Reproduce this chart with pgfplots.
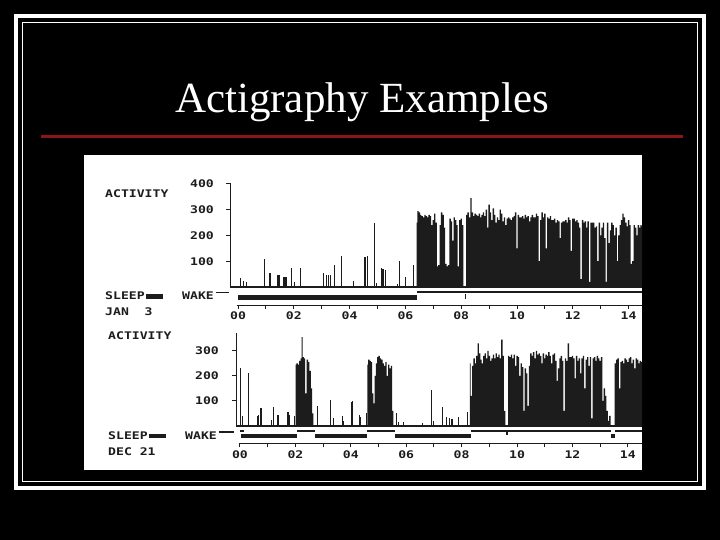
\documentclass[border=0pt]{standalone}
\usepackage{pgfplots}
\pgfplotsset{compat=1.18}
\usepackage{fontspec}
\setmainfont{Liberation Serif}
\newfontfamily\dotfont{DejaVu Sans Mono}[FakeStretch=1.25]
\newcommand\lbl{\dotfont\bfseries\fontsize{10.5bp}{12bp}\selectfont}
\definecolor{ink}{RGB}{28,28,28}
\definecolor{redline}{RGB}{140,22,22}
\pgfplotsset{act/.style={scale only axis, anchor=south west, clip=false,
  axis line style={draw=none}, tick align=outside, xtick pos=bottom, ytick pos=left,
  major tick length=4bp, every tick/.style={ink, line width=1bp},
  ticklabel style={font=\lbl, text=ink},
  xticklabel style={anchor=center, yshift=-7bp},
  xtick={0,...,14}, xticklabels={00,,02,,04,,06,,08,,10,,12,,14}},
  dense/.style={fill=ink, draw=none, const plot mark mid}}
\begin{document}
\begin{tikzpicture}[x=1bp,y=1bp]
\fill[black] (0,0) rectangle (720,540);
\useasboundingbox (0,0) rectangle (720,540);
\draw[white, line width=3.5bp] (16,52) rectangle (704,524);
\draw[white, line width=1.5bp] (22.5,58.5) rectangle (697.5,517.5);
\node[anchor=base, white, font=\fontsize{43bp}{50bp}\selectfont, inner sep=0] at (362,427) {Actigraphy Examples};
\draw[redline, line width=3bp] (41,403.3) -- (683,403.3);
\fill[white] (84,70) rectangle (642,385);
% left labels, top panel
\node[anchor=base west, inner sep=0, text=ink] at (105,342) {\lbl ACTIVITY};
\node[anchor=base west, inner sep=0, text=ink] at (105,240) {\lbl SLEEP\,\rule[1.3bp]{17bp}{4.5bp}};
\node[anchor=base west, inner sep=0, text=ink] at (182,240) {\lbl WAKE\,\rule[7bp]{13bp}{1.3bp}};
\node[anchor=base west, inner sep=0, text=ink] at (105,224) {\lbl JAN\ \ 3};
% left labels, bottom panel
\node[anchor=base west, inner sep=0, text=ink] at (108,200.4) {\lbl ACTIVITY};
\node[anchor=base west, inner sep=0, text=ink] at (108,100.4) {\lbl SLEEP\,\rule[1.3bp]{17bp}{4.5bp}};
\node[anchor=base west, inner sep=0, text=ink] at (185,100.4) {\lbl WAKE\,\rule[7bp]{15bp}{1.3bp}};
\node[anchor=base west, inner sep=0, text=ink] at (108,84) {\lbl DEC 21};

% ---------------- top panel (JAN 3) ----------------
\begin{axis}[act, at={(230bp,235bp)}, width=412bp, height=123.6bp,
  xmin=-0.287, xmax=14.48, ymin=-70, ymax=410,
  ytick={100,200,300,400}, yticklabels={100,200,300,400},
  yticklabel style={anchor=center, xshift=-24bp}]
\draw[ink, line width=1bp] (axis cs:-0.287,0) -- (axis cs:-0.287,405);
\addplot[ink, line width=1.2bp] coordinates {(-0.287,0) (14.48,0)};
\addplot[ink, line width=0.8bp] coordinates {(-0.05,-70) (14.48,-70)};
\addplot[ink, line width=5bp] coordinates {(0,-41) (6.42,-41)};
\addplot[ink, line width=1.8bp] coordinates {(6.42,-21) (14.48,-21)};
\addplot[ink, line width=1.5bp] coordinates {(8.15,-28) (8.15,-45)};
\addplot[ycomb, ink, line width=1.2bp] coordinates {
(0.08,35) (0.20,25) (0.30,20) (0.95,110) (1.15,55) (1.43,45) (1.50,45) (1.65,40)
(1.72,40) (1.92,75) (2.03,20) (2.25,72) (3.05,55) (3.17,45) (3.25,45) (3.32,45)
(3.45,85) (3.70,120) (4.15,25) (4.55,115) (4.65,120) (4.88,250) (4.95,15) (5.13,75)
(5.20,70) (5.30,65) (5.72,12) (5.80,100) (6.00,40) (6.28,85)};
\addplot[dense] coordinates {
(6.40,250) (6.45,295) (6.50,290) (6.55,280) (6.60,275) (6.65,270) (6.70,280) (6.75,275)
(6.80,270) (6.85,280) (6.90,275) (6.95,240) (7.00,260) (7.05,285) (7.10,250) (7.15,80)
(7.20,85) (7.25,240) (7.30,290) (7.35,280) (7.40,230) (7.45,90) (7.50,80) (7.55,85)
(7.60,265) (7.65,255) (7.70,180) (7.75,270) (7.80,260) (7.85,240) (7.90,80) (7.95,260)
(8.00,265) (8.05,240) (8.10,0) (8.15,0) (8.20,280) (8.25,290) (8.30,270) (8.35,345)
(8.40,290) (8.45,275) (8.50,285) (8.55,280) (8.60,275) (8.65,285) (8.70,270) (8.75,280)
(8.80,290) (8.85,275) (8.90,300) (8.95,230) (9.00,320) (9.05,290) (9.10,260) (9.15,305)
(9.20,280) (9.25,250) (9.30,270) (9.35,260) (9.40,300) (9.45,285) (9.50,255) (9.55,270)
(9.60,240) (9.65,265) (9.70,270) (9.75,265) (9.80,260) (9.85,270) (9.90,275) (9.95,290)
(10.00,150) (10.05,280) (10.10,270) (10.15,270) (10.20,275) (10.25,265) (10.30,280) (10.35,270)
(10.40,275) (10.45,255) (10.50,270) (10.55,280) (10.60,270) (10.65,270) (10.70,285) (10.75,275)
(10.80,100) (10.85,260) (10.90,290) (10.95,270) (11.00,285) (11.05,150) (11.10,270) (11.15,265)
(11.20,275) (11.25,260) (11.30,260) (11.35,265) (11.40,250) (11.45,260) (11.50,255) (11.55,190)
(11.60,250) (11.65,255) (11.70,255) (11.75,260) (11.80,250) (11.85,270) (11.90,260) (11.95,140)
(12.00,265) (12.05,265) (12.10,255) (12.15,260) (12.20,250) (12.25,230) (12.30,30) (12.35,260)
(12.40,250) (12.45,255) (12.50,230) (12.55,255) (12.60,20) (12.65,250) (12.70,250) (12.75,250)
(12.80,230) (12.85,235) (12.90,100) (12.95,250) (13.00,200) (13.05,230) (13.10,250) (13.15,190)
(13.20,20) (13.25,250) (13.30,170) (13.35,220) (13.40,250) (13.45,240) (13.50,200) (13.55,230)
(13.60,100) (13.65,200) (13.70,240) (13.75,260) (13.80,285) (13.85,270) (13.90,250) (13.95,235)
(14.00,260) (14.05,240) (14.10,90) (14.15,100) (14.20,240) (14.25,230) (14.30,200) (14.35,240)
(14.40,230) (14.45,240) (14.48,235)} \closedcycle;
\end{axis}

% ---------------- bottom panel (DEC 21) ----------------
\begin{axis}[act, at={(236bp,96.5bp)}, width=406bp, height=111.25bp,
  xmin=-0.144, xmax=14.51, ymin=-70, ymax=375,
  ytick={100,200,300}, yticklabels={100,200,300},
  yticklabel style={anchor=center, xshift=-25bp}]
\draw[ink, line width=1bp] (axis cs:-0.144,0) -- (axis cs:-0.144,372);
\addplot[ink, line width=1.2bp] coordinates {(-0.144,0) (14.51,0)};
\addplot[ink, line width=0.8bp] coordinates {(-0.05,-70) (14.51,-70)};
\addplot[ink, line width=4.5bp] coordinates {(0.05,-40) (2.05,-40)};
\addplot[ink, line width=4.5bp] coordinates {(2.70,-40) (4.60,-40)};
\addplot[ink, line width=4.5bp] coordinates {(5.60,-40) (8.35,-40)};
\addplot[ink, line width=4.5bp] coordinates {(13.40,-40) (13.55,-40)};
\addplot[ink, line width=1.8bp] coordinates {(0,-20) (0.15,-20)};
\addplot[ink, line width=1.8bp] coordinates {(2.05,-20) (2.70,-20)};
\addplot[ink, line width=1.8bp] coordinates {(4.60,-20) (5.60,-20)};
\addplot[ink, line width=1.8bp] coordinates {(8.35,-20) (13.40,-20)};
\addplot[ink, line width=1.8bp] coordinates {(13.55,-20) (14.51,-20)};
\addplot[ink, line width=1.5bp] coordinates {(9.63,-24) (9.63,-36)};
\addplot[ycomb, ink, line width=1.2bp] coordinates {
(0.03,230) (0.08,40) (0.32,210) (0.63,40) (0.68,45) (0.76,70) (1.15,25) (1.22,75)
(1.37,45) (1.73,55) (1.79,45) (1.96,40) (2.80,80) (3.26,105) (3.38,30) (3.70,40)
(3.74,20) (4.03,95) (4.07,100) (4.30,45) (4.35,35) (4.57,50) (5.64,50) (5.72,15)
(5.90,15) (6.60,10) (6.92,145) (6.98,20) (7.30,75) (7.45,35) (7.55,30) (7.65,28)
(7.90,35) (8.22,55)};
\addplot[dense] coordinates {
(2.01,245) (2.06,250) (2.11,245) (2.16,260) (2.21,270) (2.24,355) (2.28,275) (2.33,270) (2.38,130)
(2.43,265) (2.48,255) (2.53,220) (2.58,150) (2.63,50) (2.65,50)} \closedcycle;
\addplot[dense] coordinates {
(4.60,245) (4.65,265) (4.70,260) (4.75,255) (4.79,130) (4.84,90) (4.88,200) (4.92,250) (4.97,275)
(5.02,280) (5.07,270) (5.12,265) (5.17,250) (5.22,240) (5.27,255) (5.32,200) (5.37,245)
(5.42,230) (5.47,240) (5.52,60) (5.54,60)} \closedcycle;
\addplot[dense] coordinates {
(8.30,250) (8.35,120) (8.40,240) (8.45,270) (8.50,250) (8.55,280) (8.60,330) (8.65,290)
(8.70,265) (8.75,250) (8.80,280) (8.85,290) (8.90,270) (8.95,300) (9.00,280) (9.05,260)
(9.10,270) (9.15,285) (9.20,270) (9.25,290) (9.30,275) (9.35,285) (9.40,270) (9.45,345)
(9.50,280) (9.55,60) (9.60,0) (9.65,0) (9.70,280) (9.75,275) (9.80,285) (9.85,270)
(9.90,285) (9.95,240) (10.00,280) (10.05,275) (10.10,200) (10.15,250) (10.20,235) (10.25,60)
(10.30,230) (10.35,210) (10.40,80) (10.45,240) (10.50,290) (10.55,280) (10.60,295) (10.65,270)
(10.70,300) (10.75,285) (10.80,290) (10.85,280) (10.90,250) (10.95,290) (11.00,270) (11.05,285)
(11.10,280) (11.15,295) (11.20,280) (11.25,250) (11.30,285) (11.35,290) (11.40,260) (11.45,180)
(11.50,230) (11.55,270) (11.60,280) (11.65,260) (11.70,60) (11.75,270) (11.80,260) (11.85,330)
(11.90,275) (11.95,275) (12.00,280) (12.05,270) (12.10,190) (12.15,280) (12.20,260) (12.25,270)
(12.30,210) (12.35,270) (12.40,280) (12.45,150) (12.50,265) (12.55,275) (12.60,240) (12.65,275)
(12.70,30) (12.75,270) (12.80,275) (12.85,260) (12.90,280) (12.95,270) (13.00,260) (13.05,275)
(13.10,100) (13.15,150) (13.20,120) (13.25,60) (13.30,20) (13.35,40) (13.40,0) (13.45,0)
(13.50,0) (13.55,250) (13.60,265) (13.65,270) (13.70,150) (13.75,255) (13.80,260) (13.85,250)
(13.90,270) (13.95,265) (14.00,255) (14.05,270) (14.10,275) (14.15,250) (14.20,265) (14.25,230)
(14.30,270) (14.35,265) (14.40,250) (14.45,260) (14.51,255)} \closedcycle;
\end{axis}
\end{tikzpicture}
\end{document}
